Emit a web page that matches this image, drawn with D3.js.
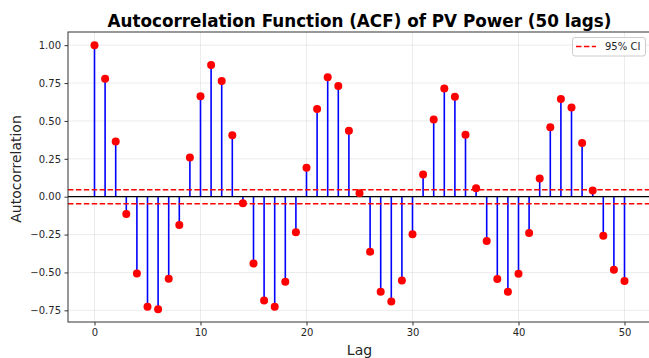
<!DOCTYPE html>
<html><head><meta charset="utf-8">
<script src="https://cdn.jsdelivr.net/npm/d3@7"></script>
<style>body{margin:0;background:#fff;}svg{display:block;font-family:"DejaVu Sans",sans-serif;}</style>
</head><body><svg id="c" width="649" height="358"></svg>
<script>
const lags = d3.range(0, 51);
const acfValues = [1.00, 0.778, 0.365, -0.114, -0.507, -0.727, -0.743, -0.542, -0.187, 0.259,
  0.663, 0.869, 0.763, 0.405, -0.043, -0.441, -0.685, -0.727, -0.562, -0.235,
  0.191, 0.579, 0.789, 0.730, 0.436, 0.023, -0.363, -0.628, -0.692, -0.553,
  -0.248, 0.147, 0.509, 0.714, 0.659, 0.409, 0.056, -0.293, -0.544, -0.628,
  -0.509, -0.240, 0.120, 0.458, 0.644, 0.588, 0.354, 0.041, -0.257, -0.482, -0.557];
const ciBound = 0.046;
const xTicks = [0, 10, 20, 30, 40, 50];
const yTicks = [-0.75, -0.50, -0.25, 0.00, 0.25, 0.50, 0.75, 1.00];
const titleText = "Autocorrelation Function (ACF) of PV Power (50 lags)";
const xLabel = "Lag", yLabel = "Autocorrelation", legendLabel = "95% CI";

const svg = d3.select("#c");
const L = 68, R = 651, T = 32, B = 322;
const x = d3.scaleLinear().domain([-2.5, 52.5]).range([L, R]);
const y = d3.scaleLinear().domain([-0.827, 1.087]).range([B, T]);

// grid
const grid = svg.append("g");
grid.selectAll(".gx").data(xTicks).enter().append("line")
  .attr("x1", d => x(d)).attr("x2", d => x(d)).attr("y1", T).attr("y2", B)
  .attr("stroke", "#b0b0b0").attr("stroke-opacity", 0.3).attr("stroke-width", 0.8);
grid.selectAll(".gy").data(yTicks).enter().append("line")
  .attr("x1", L).attr("x2", R).attr("y1", d => y(d)).attr("y2", d => y(d))
  .attr("stroke", "#b0b0b0").attr("stroke-opacity", 0.3).attr("stroke-width", 0.8);

// stems
svg.append("g").selectAll("line").data(lags).enter().append("line")
  .attr("x1", d => x(d)).attr("x2", d => x(d))
  .attr("y1", y(0)).attr("y2", d => y(acfValues[d]))
  .attr("stroke", "#0000ff").attr("stroke-width", 1.6);

// zero line
svg.append("line").attr("x1", L).attr("x2", R).attr("y1", y(0)).attr("y2", y(0))
  .attr("stroke", "#000").attr("stroke-width", 1.2);

// CI lines
[ciBound, -ciBound].forEach(v => {
  svg.append("line").attr("x1", L).attr("x2", R).attr("y1", y(v)).attr("y2", y(v))
    .attr("stroke", "#ff0000").attr("stroke-width", 1.5).attr("stroke-dasharray", "5.5,2.4");
});

// markers
svg.append("g").selectAll("circle").data(lags).enter().append("circle")
  .attr("cx", d => x(d)).attr("cy", d => y(acfValues[d])).attr("r", 4)
  .attr("fill", "#ff0000");

// axes
const fmt = d => (d < 0 ? "\u2212" : "") + Math.abs(d).toFixed(2);
const xAxis = svg.append("g").attr("transform", `translate(0,${B})`)
  .call(d3.axisBottom(x).tickValues(xTicks).tickSize(3.5).tickPadding(3.5).tickFormat(d3.format("d")));
const yAxis = svg.append("g").attr("transform", `translate(${L},0)`)
  .call(d3.axisLeft(y).tickValues(yTicks).tickSize(3.5).tickPadding(3.5).tickFormat(fmt));
[xAxis, yAxis].forEach(a => {
  a.select(".domain").remove();
  a.selectAll("text").attr("font-size", 10).attr("fill", "#262626").attr("font-family", "DejaVu Sans");
  a.selectAll("line").attr("stroke", "#333");
});

// frame
svg.append("rect").attr("x", L).attr("y", T).attr("width", R - L).attr("height", B - T)
  .attr("fill", "none").attr("stroke", "#333").attr("stroke-width", 1);

// title & labels
svg.append("text").attr("x", (L + R) / 2).attr("y", 26.5).attr("text-anchor", "middle")
  .attr("font-size", 16.8).attr("font-weight", "bold").attr("fill", "#000").text(titleText);
svg.append("text").attr("x", (L + R) / 2).attr("y", 355).attr("text-anchor", "middle")
  .attr("font-size", 14).attr("fill", "#262626").text(xLabel);
svg.append("text").attr("transform", `translate(20.5,169) rotate(-90)`).attr("text-anchor", "middle")
  .attr("font-size", 14).attr("fill", "#262626").text(yLabel);

// legend
const lg = svg.append("g");
lg.append("rect").attr("x", 572.5).attr("y", 37.5).attr("width", 73).attr("height", 18.5).attr("rx", 2.5)
  .attr("fill", "#fff").attr("fill-opacity", 0.8).attr("stroke", "#ccc").attr("stroke-width", 1);
lg.append("line").attr("x1", 576).attr("x2", 596).attr("y1", 46.5).attr("y2", 46.5)
  .attr("stroke", "#ff0000").attr("stroke-width", 1.5).attr("stroke-dasharray", "5.5,2.4");
lg.append("text").attr("x", 605).attr("y", 50.2).attr("font-size", 10).attr("fill", "#262626").text(legendLabel);
</script></body></html>
